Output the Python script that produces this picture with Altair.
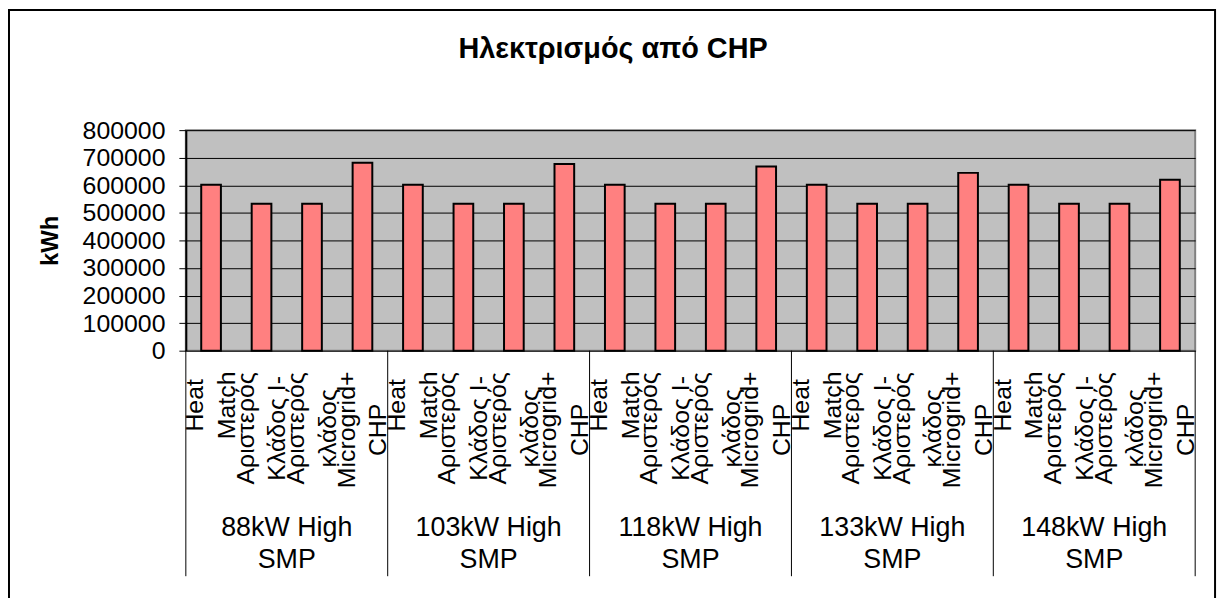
import altair as alt
import pandas as pd

# ---- data ----
groups = ["88kW High\nSMP", "103kW High\nSMP", "118kW High\nSMP", "133kW High\nSMP", "148kW High\nSMP"]
scenarios = ["Heat\nMatch", "Αριστερός\nΚλάδος Ι-", "Αριστερός\nκλάδος", "Microgrid+\nCHP"]
heat_match = [602000, 602000, 602000, 602000, 602000]
left_branch_i = [533000, 533000, 533000, 533000, 533000]
left_branch = [533000, 533000, 533000, 533000, 533000]
microgrid_chp = [682000, 677000, 668000, 645000, 620000]
y_ticks = [0, 100000, 200000, 300000, 400000, 500000, 600000, 700000, 800000]
title_text = "Ηλεκτρισμός από CHP"
y_title = "kWh"

FONT = "Liberation Sans"
W, H = 1016, 222
LABEL_FS = 25
LINE_H = 32

series = [heat_match, left_branch_i, left_branch, microgrid_chp]
rows = []
for g, grp in enumerate(groups):
    for s, sc in enumerate(scenarios):
        i = g * 4 + s
        rows.append({"idx": i, "x0": i + 0.305, "x1": i + 0.695, "mid": i + 0.5,
                     "group": grp, "scenario": sc, "value": series[s][g], "base": 0})
df = pd.DataFrame(rows)
gdf = pd.DataFrame({"group": groups, "gmid": [4 * g + 2 for g in range(len(groups))]})
bdf = pd.DataFrame({"b": [4 * g for g in range(len(groups) + 1)]})

# approximate Arial/Liberation advance widths (em) for centring the rotated label blocks
CW = {'H': .722, 'e': .556, 'a': .556, 't': .278, 'M': .833, 'c': .5, 'h': .556, 'Α': .667,
      'ρ': .577, 'ι': .222, 'σ': .617, 'τ': .43, 'ε': .446, 'ό': .556, 'ς': .48, 'Κ': .667,
      'κ': .5, 'λ': .5, 'ά': .577, 'δ': .556, 'ο': .556, ' ': .278, 'Ι': .278, '-': .333,
      'i': .222, 'r': .333, 'g': .556, 'd': .556, '+': .584, 'C': .722, 'P': .667, 'o': .556}


def text_len(s):
    return max(sum(CW.get(ch, .556) for ch in line) for line in s.split("\n")) * LABEL_FS


xs = alt.Scale(domain=[0, 20], nice=False, zero=False)
ys = alt.Scale(domain=[0, 800000], nice=False)

x_axis = alt.Axis(values=list(range(21)), labels=False, title=None, grid=False,
                  tickSize=142, tickColor="black", tickWidth=1,
                  domainColor="black", domainWidth=2)
y_axis = alt.Axis(values=y_ticks, format="d", labelFont=FONT, labelFontSize=25,
                  labelColor="black", labelPadding=14, tickSize=7, tickColor="black",
                  tickWidth=1, domainColor="black", domainWidth=2,
                  gridColor="black", gridWidth=1,
                  title=y_title, titleFont=FONT, titleFontSize=24, titleFontWeight="bold",
                  titleColor="black", titleX=-136, titleBaseline="middle")

frame = alt.Chart(pd.DataFrame({"a": [0]})).mark_rect(
    fillOpacity=0, stroke="black", strokeWidth=2
).encode(x=alt.value(-178), x2=alt.value(1036), y=alt.value(-121), y2=alt.value(480))

bars = alt.Chart(df).mark_rect(fill="#FF8080", stroke="black", strokeWidth=2).encode(
    x=alt.X("x0:Q", scale=xs, axis=x_axis),
    x2=alt.X2("x1:Q"),
    y=alt.Y("value:Q", scale=ys, axis=y_axis),
    y2=alt.Y2("base:Q"),
)

seps = alt.Chart(bdf).mark_rule(color="black", strokeWidth=1).encode(
    x=alt.X("b:Q", scale=xs, axis=None), y=alt.value(H), y2=alt.value(449)
)

label_layers = []
for sc in scenarios:
    anchor = 243 + text_len(sc) / 2
    n_lines = len(sc.split("\n"))
    label_layers.append(
        alt.Chart(df).transform_filter(alt.datum.scenario == sc).mark_text(
            angle=270, align="center", baseline="middle", lineBreak="\n",
            font=FONT, fontSize=LABEL_FS, lineHeight=LINE_H, color="black",
            dy=-(n_lines - 1) * LINE_H / 2
        ).encode(x=alt.X("mid:Q", scale=xs, axis=None), y=alt.value(anchor), text="scenario:N")
    )

group_labels = alt.Chart(gdf).mark_text(
    align="center", baseline="middle", lineBreak="\n", font=FONT, fontSize=27,
    lineHeight=LINE_H, color="black", dy=-LINE_H / 2
).encode(x=alt.X("gmid:Q", scale=xs, axis=None), y=alt.value(417), text="group:N")

title = alt.Chart(pd.DataFrame({"t": [title_text]})).mark_text(
    align="center", baseline="middle", font=FONT, fontSize=29, fontWeight="bold", color="black"
).encode(x=alt.value(430), y=alt.value(-82), text="t:N")

chart = alt.layer(frame, bars, seps, *label_layers, group_labels, title).properties(
    width=W, height=H,
    autosize=alt.AutoSizeParams(type="none"),
    padding={"left": 179, "top": 121, "right": 28, "bottom": 247},
    background="white",
).configure_view(fill="#C0C0C0", stroke="#808080", strokeWidth=2)

chart.save("out.html", embed_options={"renderer": "svg", "actions": False})
